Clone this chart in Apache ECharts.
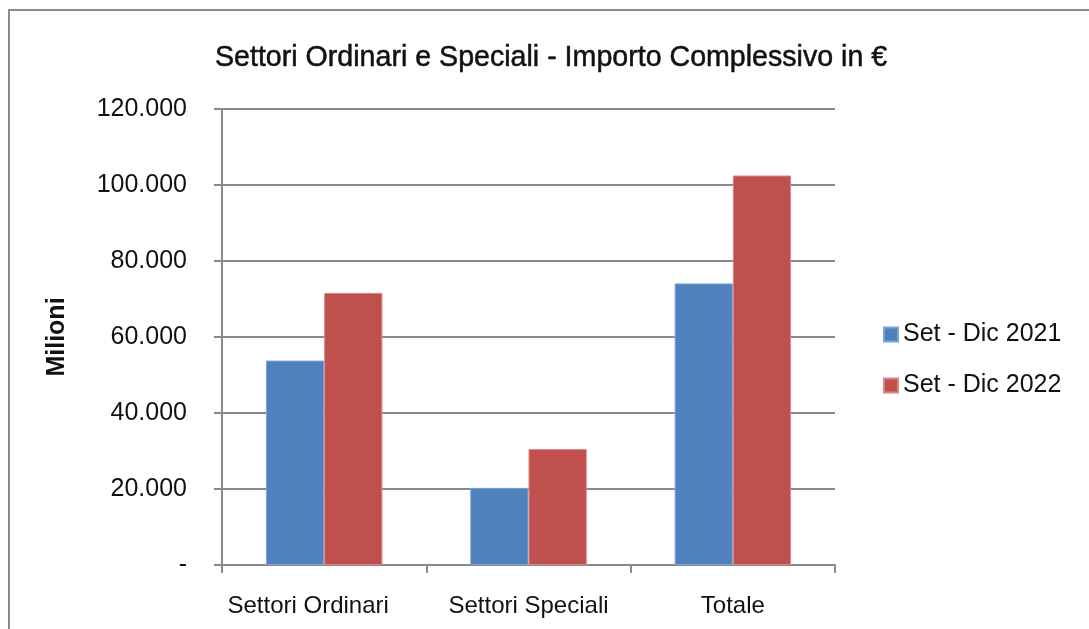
<!DOCTYPE html>
<html>
<head>
<meta charset="utf-8">
<script src="https://cdn.jsdelivr.net/npm/echarts@6/dist/echarts.min.js"></script>
<style>
  html, body { margin: 0; padding: 0; background: #fff; }
  #chart { width: 1089px; height: 629px; }
</style>
</head>
<body>
<div id="chart"></div>
<script>
// categorie e valori (milioni di euro)
const categories = ["Settori Ordinari", "Settori Speciali", "Totale"];
const serie2021 = [53800, 20300, 74100];
const serie2022 = [71600, 30500, 102500];
const seriesNames = ["Set - Dic 2021", "Set - Dic 2022"];
const yTicks = [0, 20000, 40000, 60000, 80000, 100000, 120000];

const FONT = "Liberation Sans, Arial, sans-serif";
const GRIDCOL = "#8a8a8a";

const chart = echarts.init(document.getElementById("chart"));

// formato italiano: 120.000, zero come "-"
const fmt = (v) => (v === 0 ? "-" : v.toLocaleString("de-DE"));

// la prima etichetta in Excel e' spostata un po' a sinistra
const catData = categories.map((c, i) =>
  i === 0 ? { value: c, textStyle: { padding: [0, 32, 0, 0] } } : c
);

const option = {
  animation: false,
  backgroundColor: "#fff",
  color: ["#4F81BD", "#C0504D"],
  title: {
    text: "Settori Ordinari e Speciali - Importo Complessivo in €",
    left: 210,
    top: 39,
    textStyle: {
      fontFamily: FONT,
      fontSize: 28.6,
      fontWeight: "normal",
      color: "#111",
      textBorderColor: "#111",
      textBorderWidth: 0.5,
    },
  },
  graphic: [
    {
      type: "rect",
      shape: { x: 9, y: 10, width: 1200, height: 700 },
      style: { fill: "none", stroke: GRIDCOL, lineWidth: 2 },
      silent: true,
    },
  ],
  legend: {
    orient: "vertical",
    left: 878,
    top: 317,
    icon: "rect",
    itemWidth: 14,
    itemHeight: 14,
    itemGap: 26,
    textStyle: { fontFamily: FONT, fontSize: 25, color: "#111" },
    data: seriesNames,
  },
  grid: { left: 222, right: 254, top: 109, bottom: 64, containLabel: false },
  xAxis: {
    type: "category",
    data: catData,
    boundaryGap: true,
    axisLine: { lineStyle: { color: GRIDCOL, width: 2 } },
    axisTick: { show: true, interval: 0, length: 8, lineStyle: { color: GRIDCOL, width: 2 } },
    axisLabel: { interval: 0, fontFamily: FONT, fontSize: 24, color: "#111", margin: 29 },
  },
  yAxis: {
    type: "value",
    min: yTicks[0],
    max: yTicks[yTicks.length - 1],
    interval: 20000,
    name: "Milioni",
    nameLocation: "middle",
    nameGap: 152,
    nameRotate: 90,
    nameTextStyle: { fontFamily: FONT, fontSize: 25, fontWeight: "bold", color: "#111" },
    axisLine: { show: true, lineStyle: { color: GRIDCOL, width: 2 } },
    axisTick: { show: true, length: 8, lineStyle: { color: GRIDCOL, width: 2 } },
    splitLine: { show: true, lineStyle: { color: GRIDCOL, width: 2 } },
    axisLabel: { fontFamily: FONT, fontSize: 25, color: "#111", margin: 35, formatter: fmt },
  },
  series: [
    {
      name: seriesNames[0],
      type: "bar",
      data: serie2021,
      barGap: "0%",
      barCategoryGap: "43%",
      itemStyle: { borderColor: "#7ea3d3", borderWidth: 1 },
    },
    {
      name: seriesNames[1],
      type: "bar",
      data: serie2022,
      barGap: "0%",
      barCategoryGap: "43%",
      itemStyle: { borderColor: "#d98583", borderWidth: 1 },
    },
  ],
};

chart.setOption(option);
</script>
</body>
</html>
